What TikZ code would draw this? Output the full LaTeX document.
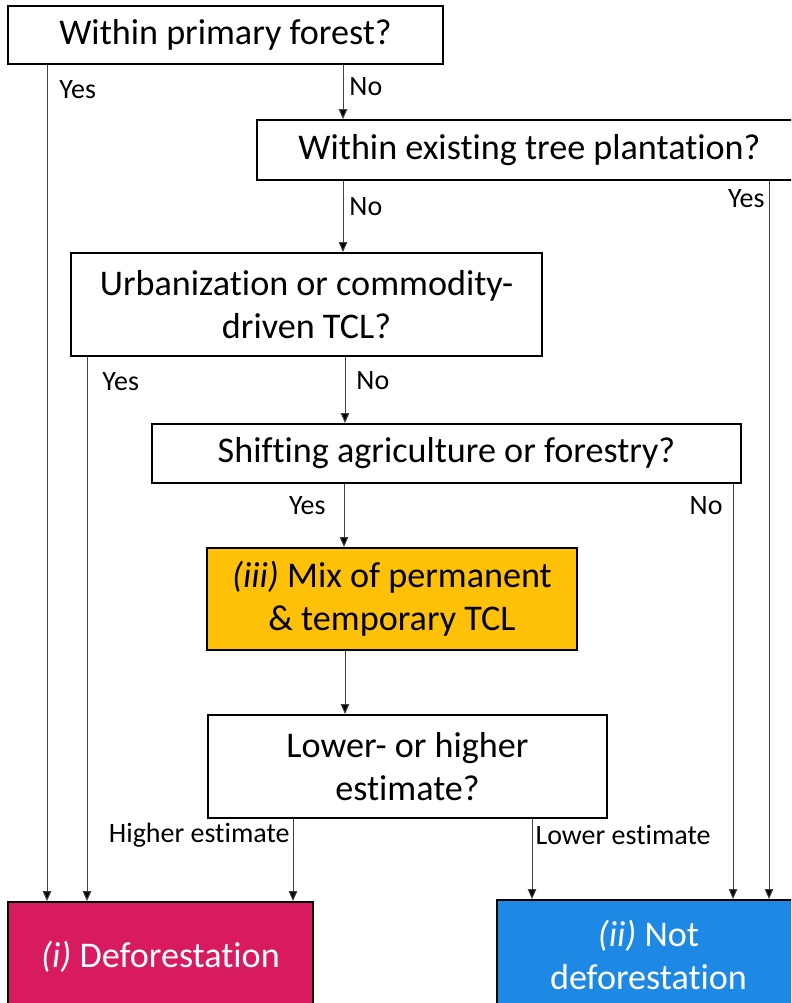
\documentclass[tikz,border=0pt]{standalone}
\usepackage{fontspec}
\setmainfont{Carlito}[Ligatures=NoCommon]
\usetikzlibrary{arrows.meta}
\definecolor{defocol}{HTML}{D81B60}
\definecolor{notcol}{HTML}{1E88E5}
\definecolor{mixcol}{HTML}{FFC107}
\tikzset{
  qbox/.style={draw, line width=1.4pt, inner sep=0pt, align=center,
    font=\fontsize{25.7}{30.6}\selectfont},
  flow/.style={draw=black!75, line width=0.7pt, -{Triangle[length=7pt,width=6pt,fill=black]}},
  lbl/.style={inner sep=0pt, font=\fontsize{19.9}{24}\selectfont}
}

\begin{document}
\begin{tikzpicture}[x=0.025cm, y=-0.025cm]
\useasboundingbox (0,0) rectangle (791,1003);
\clip (0,0) rectangle (791,1003);

% questions
\node[qbox, minimum width=10.875cm, minimum height=1.45cm] (primary) at (225.5,35) {Within primary forest?};
\node[qbox, minimum width=13.625cm, minimum height=1.5cm] (plant) at (529.5,150) {Within existing tree plantation?};
\node[qbox, minimum width=11.775cm, minimum height=2.575cm] (urban) at (306.5,304.5) {Urbanization or commodity-\\driven TCL?};
\node[qbox, minimum width=14.725cm, minimum height=1.475cm] (shifting) at (446.5,453.5) {Shifting agriculture or forestry?};
\node[qbox, fill=mixcol, minimum width=9.25cm, minimum height=2.55cm] (mix) at (392,599) {\textit{(iii)} Mix of permanent\\\& temporary TCL};
\node[qbox, minimum width=9.975cm, minimum height=2.575cm] (estimate) at (407.5,766.5) {Lower- or higher\\estimate?};

% outcomes
\node[qbox, fill=defocol, text=white, minimum width=7.625cm, minimum height=2.75cm] (defo) at (160.5,957) {\textit{(i)} Deforestation};
\node[qbox, fill=notcol, text=white, minimum width=7.575cm, minimum height=2.75cm] (notdefo) at (648.5,955) {\textit{(ii)} Not\\deforestation};

% connectors
\draw[flow] (47,0 |- primary.south) -- (47,0 |- defo.north) node[lbl, pos=0, anchor=west, shift={(12,25)}] {Yes};
\draw[flow] (343,0 |- primary.south) -- (343,0 |- plant.north) node[lbl, pos=0, anchor=west, shift={(6,22)}] {No};
\draw[flow] (343,0 |- plant.south) -- (343,0 |- urban.north) node[lbl, pos=0, anchor=west, shift={(6,26)}] {No};
\draw[flow] (769,0 |- plant.south) -- (769,0 |- notdefo.north) node[lbl, pos=0, anchor=east, shift={(-4,18)}] {Yes};
\draw[flow] (87,0 |- urban.south) -- (87,0 |- defo.north) node[lbl, pos=0, anchor=west, shift={(15,25)}] {Yes};
\draw[flow] (345,0 |- urban.south) -- (345,0 |- shifting.north) node[lbl, pos=0, anchor=west, shift={(11,24)}] {No};
\draw[flow] (344,0 |- shifting.south) -- (344,0 |- mix.north) node[lbl, pos=0, anchor=east, shift={(-18,22)}] {Yes};
\draw[flow] (733,0 |- shifting.south) -- (733,0 |- notdefo.north) node[lbl, pos=0, anchor=east, shift={(-10,22)}] {No};
\draw[flow] (345,0 |- mix.south) -- (345,0 |- estimate.north);
\draw[flow] (293,0 |- estimate.south) -- (293,0 |- defo.north) node[lbl, pos=0, anchor=east, shift={(-3,16)}] {Higher estimate};
\draw[flow] (532,0 |- estimate.south) -- (532,0 |- notdefo.north) node[lbl, pos=0, anchor=west, shift={(3,16)}] {Lower estimate};
\end{tikzpicture}
\end{document}
